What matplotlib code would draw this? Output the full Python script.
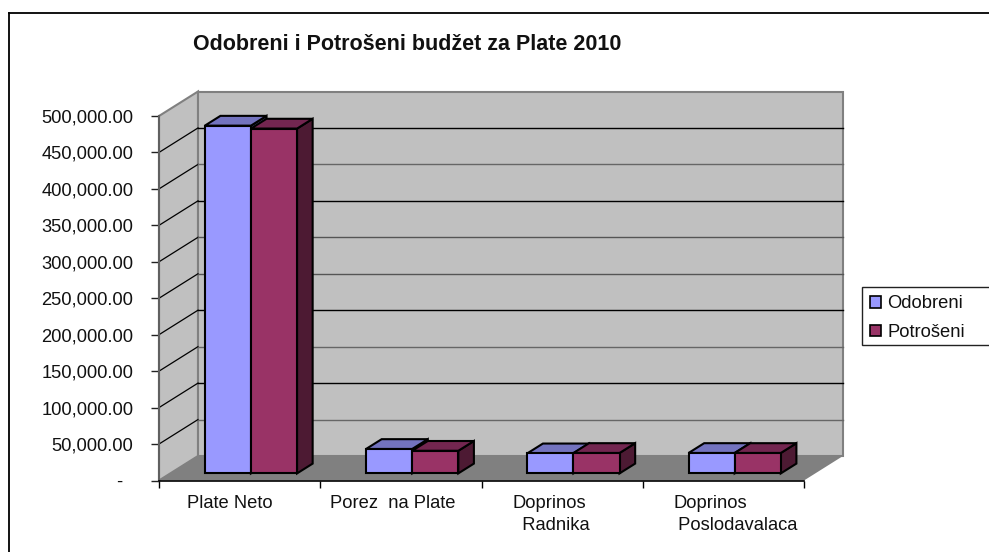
import matplotlib
matplotlib.use('Agg')
import matplotlib.pyplot as plt
from matplotlib.patches import Patch, Polygon, Rectangle
from matplotlib.lines import Line2D

plt.rcParams['font.family'] = ['Liberation Sans', 'DejaVu Sans']

categories = ['Plate Neto', 'Porez  na Plate', 'Doprinos\n  Radnika', 'Doprinos\n Poslodavalaca']
odobreni = [477000, 33500, 27500, 28000]
potroseni = [473000, 31000, 28000, 28000]
y_ticks = [0, 50000, 100000, 150000, 200000, 250000, 300000, 350000, 400000, 450000, 500000]
y_labels = ['-  ', '50,000.00', '100,000.00', '150,000.00', '200,000.00', '250,000.00',
            '300,000.00', '350,000.00', '400,000.00', '450,000.00', '500,000.00']
label_x = [0.174, 1.06, 2.19, 3.19]

W, H = 989, 552
FS = 13.2

# fake 3d depth, in data units
depth_x = 39 / 161.25
depth_y = 24.5 / 364.5 * 500000
bar_w = 0.286
bar_off = 0.214
bar_front = 0.29
bar_depth = 0.40

# the source image renders the grid lines unevenly
grid_colors = ['#666666', '#000000', '#666666', '#000000', '#555555', '#555555', '#000000', '#666666', '#000000']

fig = plt.figure(figsize=(W / 100, H / 100), dpi=100, facecolor='white')
ax = fig.add_axes([159 / W, (H - 480.5) / H, 645 / W, 364.5 / H])
ax.set_xlim(0, 4)
ax.set_ylim(0, 500000)
ax.patch.set_visible(False)


def poly(pts, face, edge='none', lw=0, z=1):
    ax.add_patch(Polygon(pts, closed=True, facecolor=face, edgecolor=edge, linewidth=lw,
                         clip_on=False, zorder=z, joinstyle='miter'))


# walls and floor
poly([(0, 0), (depth_x, depth_y), (depth_x, 500000 + depth_y), (0, 500000)], '#C0C0C0', '#808080', 1.5)
poly([(depth_x, depth_y), (4 + depth_x, depth_y), (4 + depth_x, 500000 + depth_y), (depth_x, 500000 + depth_y)],
     '#C0C0C0', '#808080', 1.5)
poly([(0, 0), (4, 0), (4 + depth_x, depth_y), (depth_x, depth_y)], '#808080')

# grid
for v, c in zip(y_ticks[1:-1], grid_colors):
    ax.plot([0, depth_x], [v, v + depth_y], color='black', lw=0.9, clip_on=False, zorder=2)
    ax.plot([depth_x, 4 + depth_x], [v + depth_y, v + depth_y], color=c, lw=1.0, clip_on=False, zorder=2)


def bar3d(x, value, front, top, side, z):
    bx = bar_depth * depth_x
    by = bar_depth * depth_y
    x0 = x + bar_front * depth_x
    y0 = bar_front * depth_y
    y1 = y0 + value
    poly([(x0 + bar_w, y0), (x0 + bar_w + bx, y0 + by), (x0 + bar_w + bx, y1 + by), (x0 + bar_w, y1)],
         side, 'black', 1.5, z)
    poly([(x0, y1), (x0 + bar_w, y1), (x0 + bar_w + bx, y1 + by), (x0 + bx, y1 + by)], top, 'black', 1.5, z)
    poly([(x0, y0), (x0 + bar_w, y0), (x0 + bar_w, y1), (x0, y1)], front, 'black', 1.5, z + 0.5)


for i in range(len(categories)):
    bar3d(i + bar_off, odobreni[i], '#9999FF', '#7373BF', '#4D4D80', 3 + i)
    bar3d(i + bar_off + bar_w, potroseni[i], '#993366', '#732650', '#4D1A33', 3.6 + i)

# axes
for s in ['top', 'right']:
    ax.spines[s].set_visible(False)
ax.spines['left'].set_color('#606060')
ax.spines['left'].set_linewidth(1.5)
ax.spines['bottom'].set_color('black')
ax.spines['bottom'].set_linewidth(1.2)
ax.spines['left'].set_zorder(2.5)
ax.spines['bottom'].set_zorder(2.5)

ax.set_yticks(y_ticks)
ax.set_yticklabels(y_labels, fontsize=FS, color='#111111')
ax.tick_params(axis='y', length=5.5, width=1, pad=13, color='#222222')
ax.set_xticks([0, 1, 2, 3, 4])
ax.set_xticklabels([])
ax.tick_params(axis='x', which='major', length=5, width=1, color='black')
ax.set_xticks(label_x, minor=True)
ax.set_xticklabels(categories, minor=True, fontsize=FS, color='#111111', ha='left', ma='left', linespacing=1.38)
ax.tick_params(axis='x', which='minor', length=0, pad=10.5)

fig.text(407 / W, 1 - 44 / H, 'Odobreni i Potrošeni budžet za Plate 2010', fontsize=15.5,
         fontweight='bold', ha='center', va='center', color='#111111')

# outer frame, only left and top are in the picture
fig.add_artist(Line2D([9 / W, 9 / W], [0, 1 - 12.5 / H], color='black', lw=1.3))
fig.add_artist(Line2D([9 / W, 1], [1 - 12.5 / H, 1 - 12.5 / H], color='black', lw=1.3))

# legend, box runs off the right edge
fig.add_artist(Rectangle((862 / W, 1 - 344.5 / H), 140 / W, 57.5 / H, transform=fig.transFigure,
                         facecolor='white', edgecolor='#222222', linewidth=1))
handles = [Patch(facecolor='#9999FF', edgecolor='black', linewidth=1.2, label='Odobreni'),
           Patch(facecolor='#993366', edgecolor='black', linewidth=1.2, label='Potrošeni')]
fig.legend(handles=handles, loc='upper left', bbox_to_anchor=(866 / W, 1 - 291.5 / H), frameon=False,
           fontsize=FS, handlelength=0.6, handleheight=0.6, handletextpad=0.35, labelspacing=0.65,
           borderpad=0.2, borderaxespad=0, labelcolor='#111111')

fig.savefig('out.png', dpi=100)
